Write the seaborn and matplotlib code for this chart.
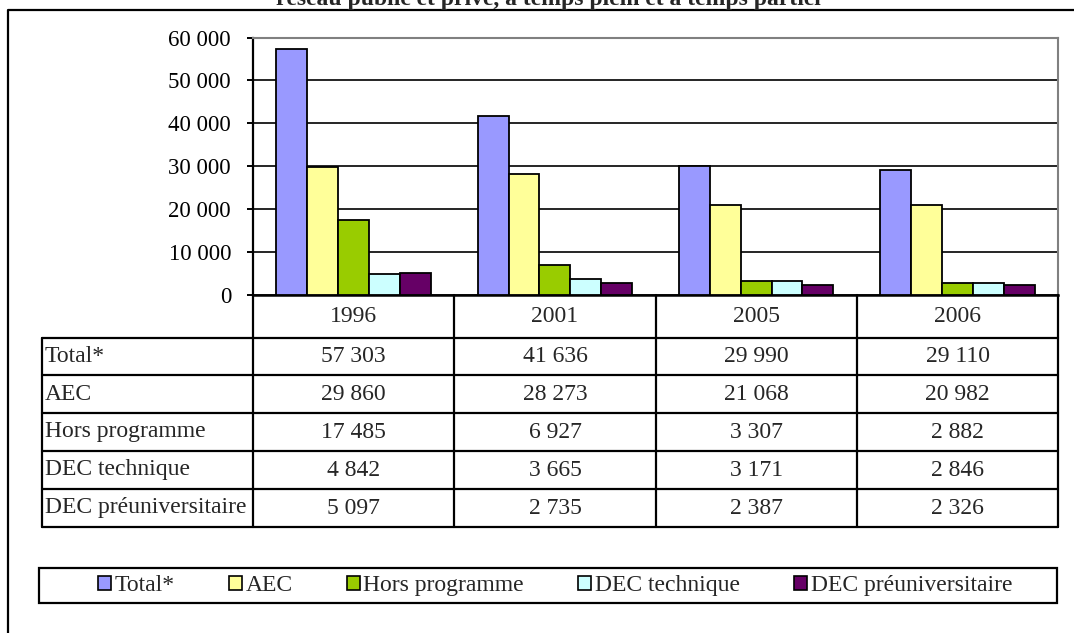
import numpy as np
import pandas as pd
import matplotlib
matplotlib.use('Agg')
import matplotlib.pyplot as plt
import seaborn as sns
from matplotlib.patches import Rectangle, Patch
from matplotlib.lines import Line2D

# ---- data ----
years = ['1996', '2001', '2005', '2006']
series = ['Total*', 'AEC', 'Hors programme', 'DEC technique', 'DEC préuniversitaire']
total = [57303, 41636, 29990, 29110]
aec = [29860, 28273, 21068, 20982]
hors = [17485, 6927, 3307, 2882]
dec_tech = [4842, 3665, 3171, 2846]
dec_preu = [5097, 2735, 2387, 2326]
colors = ['#9999FF', '#FFFF99', '#99CC00', '#CCFFFF', '#660066']
yticks = [0, 10000, 20000, 30000, 40000, 50000, 60000]
title = 'réseau public et privé, à temps plein et à temps partiel'

values = [total, aec, hors, dec_tech, dec_preu]
df = pd.DataFrame([(y, s, v[i]) for s, v in zip(series, values)
                   for i, y in enumerate(years)],
                  columns=['year', 'series', 'value'])

def fmt(v):
    return f'{v:,}'.replace(',', ' ')

sns.set_theme(style='white')
plt.rcParams['font.family'] = ['Liberation Serif', 'DejaVu Serif']
FS = 17

W, H = 1074, 633
fig = plt.figure(figsize=(W / 100, H / 100), dpi=100)

def fx(px):
    return px / W

def fy(py):
    return 1 - py / H

# ---- plot area ----
ax = fig.add_axes([fx(253), fy(295), fx(1058) - fx(253), fy(37.5) - fy(295)])
sns.barplot(data=df, x='year', y='value', hue='series', order=years,
            hue_order=series, palette=colors, width=0.767, gap=0,
            edgecolor='black', linewidth=1.3, saturation=1, legend=False,
            errorbar=None, ax=ax, zorder=3)
ax.set_xlim(-0.5, len(years) - 0.5)
ax.set_ylim(0, 60000)
ax.set_yticks(yticks)
ax.set_yticklabels([fmt(v) for v in yticks])
ax.yaxis.grid(True, color='black', lw=1.2)
ax.xaxis.grid(False)
ax.set_axisbelow(True)
ax.set_xlabel('')
ax.set_ylabel('')
ax.set_xticks([])
ax.tick_params(axis='y', left=True, direction='out', length=4.3, width=1.4,
               pad=11.5, labelsize=16.5, color='black', labelcolor='black')
for side in ['top', 'right']:
    ax.spines[side].set_color('#808080')
    ax.spines[side].set_linewidth(1.5)
ax.spines['left'].set_color('black')
ax.spines['left'].set_linewidth(1.6)
ax.spines['bottom'].set_color('black')
ax.spines['bottom'].set_linewidth(1.8)

# ---- data table ----
col_x = [253, 454, 656, 857, 1058]
label_x0 = 42
row_y = [295, 338, 375, 413, 451, 489, 527]
LW = 1.6

def hline(y, x0, x1):
    fig.add_artist(Line2D([fx(x0), fx(x1)], [fy(y), fy(y)], color='black',
                          lw=LW, transform=fig.transFigure))

def vline(x, y0, y1):
    fig.add_artist(Line2D([fx(x), fx(x)], [fy(y0), fy(y1)], color='black',
                          lw=LW, transform=fig.transFigure))

for y in row_y[1:]:
    hline(y, label_x0, col_x[-1])
vline(label_x0, row_y[1], row_y[-1])
for x in col_x:
    vline(x, row_y[0], row_y[-1])

for j, yr in enumerate(years):
    cx = (col_x[j] + col_x[j + 1]) / 2
    fig.text(fx(cx), fy((row_y[0] + row_y[1]) / 2), yr, ha='center',
             va='center', fontsize=FS)

for i, (s, v) in enumerate(zip(series, values)):
    cy = (row_y[i + 1] + row_y[i + 2]) / 2
    fig.text(fx(label_x0 + 3), fy(cy), s, ha='left', va='center', fontsize=FS)
    for j in range(len(years)):
        cx = (col_x[j] + col_x[j + 1]) / 2
        fig.text(fx(cx), fy(cy), fmt(v[j]), ha='center', va='center',
                 fontsize=FS)

# ---- legend ----
handles = [Patch(facecolor=c, edgecolor='black', lw=1.2) for c in colors]
fig.legend(handles, series, loc='center', bbox_to_anchor=(fx(555), fy(585.5)),
           ncol=5, frameon=False, fontsize=FS, handlelength=0.55,
           handleheight=0.55, handletextpad=0.15, columnspacing=2.3,
           borderaxespad=0, borderpad=0)
fig.add_artist(Rectangle((fx(39), fy(603)), fx(1057) - fx(39), fy(568) - fy(603),
                         fill=False, ec='black', lw=1.6,
                         transform=fig.transFigure))

# ---- outer frame & title (title is cropped at the top, as in the source) ----
fig.add_artist(Line2D([fx(8), fx(8), fx(1100)], [fy(700), fy(10), fy(10)],
                      color='black', lw=1.6, transform=fig.transFigure))
fig.text(fx(548), fy(5), title, ha='center', va='baseline', fontsize=FS,
         fontweight='bold')

fig.savefig('out.png', dpi=100)
